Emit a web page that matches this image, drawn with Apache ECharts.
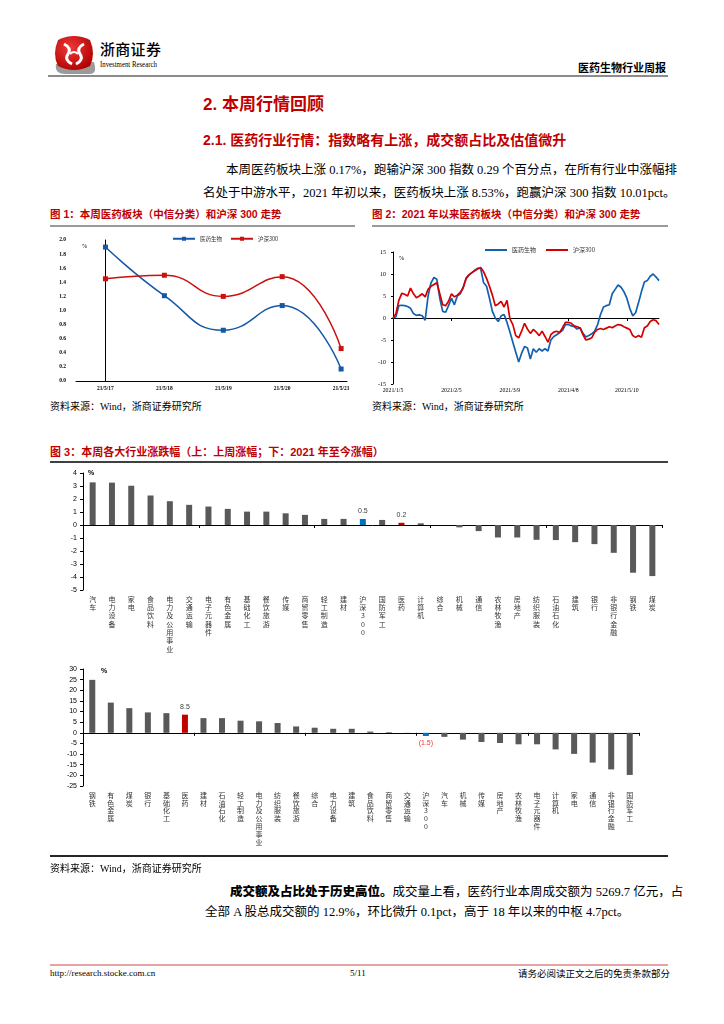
<!DOCTYPE html>
<html><head><meta charset="utf-8">
<script src="https://cdn.jsdelivr.net/npm/echarts@6/dist/echarts.min.js"></script>
<style>
body{margin:0;background:#fff;width:724px;height:1024px;position:relative;overflow:hidden;font-family:"Liberation Serif","Noto Sans CJK SC",serif;color:#000;}
.a{position:absolute;white-space:nowrap;}
.hl{position:absolute;}
.red{color:#C00000;font-family:"Liberation Sans","Noto Sans CJK SC",sans-serif;font-weight:bold;}
.body{font-size:12.5px;line-height:16px;}
.just{text-align:justify;text-align-last:justify;}
.src{font-size:10px;line-height:12px;}
.ch{position:absolute;}
</style></head><body>
<!-- header -->
<svg class="a" style="left:50px;top:34px" width="48" height="42" viewBox="0 0 48 42">
  <defs><radialGradient id="g" cx="40%" cy="35%" r="70%"><stop offset="0" stop-color="#f03a3a"/><stop offset="1" stop-color="#b00000"/></radialGradient></defs>
  <path d="M6 30 Q4 40 16 40 L40 40 Q46 40 45 33 L44 28 Z" fill="#9a9a9a"/>
  <path d="M8 6 Q24 -2 40 6 Q46 20 40 32 Q24 40 8 32 Q2 20 8 6 Z" fill="url(#g)"/>
  <path d="M14 10 Q22 14 18 20 Q14 26 22 30" stroke="#fff" stroke-width="3" fill="none"/>
  <path d="M34 10 Q26 14 30 20 Q34 26 26 30" stroke="#fff" stroke-width="3" fill="none"/>
  <path d="M20 20 Q24 16 28 20" stroke="#fff" stroke-width="2" fill="none"/>
</svg>
<div class="a" style="left:100px;top:40px;font-family:'Noto Sans CJK SC';font-size:15px;font-weight:500;letter-spacing:0.3px;line-height:18px;">浙商证券</div>
<div class="a" style="left:100px;top:60px;font-family:'Liberation Serif';font-size:8px;line-height:9px;transform:scaleX(0.85);transform-origin:left;">Investment Research</div>
<div class="a" style="left:578px;top:61px;font-family:'Noto Sans CJK SC';font-size:11px;font-weight:bold;line-height:13px;">医药生物行业周报</div>
<div class="hl" style="left:48px;top:75px;width:620px;height:2px;background:#8c8c8c;"></div>

<div class="a red" style="left:203px;top:94px;font-size:17px;line-height:22px;">2. 本周行情回顾</div>
<div class="a red" style="left:203px;top:131px;font-size:14px;line-height:18px;">2.1. 医药行业行情：指数略有上涨，成交额占比及估值微升</div>
<div class="a body just" style="left:226px;top:162px;width:442px;">本周医药板块上涨 0.17%，跑输沪深 300 指数 0.29 个百分点，在所有行业中涨幅排</div>
<div class="a body" style="left:203px;top:185px;">名处于中游水平，2021 年初以来，医药板块上涨 8.53%，跑赢沪深 300 指数 10.01pct。</div>

<div class="a red" style="left:50px;top:208px;font-size:10.5px;line-height:13px;">图 1：本周医药板块（中信分类）和沪深 300 走势</div>
<div class="a red" style="left:372px;top:208px;font-size:10.5px;line-height:13px;">图 2：2021 年以来医药板块（中信分类）和沪深 300 走势</div>
<div class="hl" style="left:50px;top:225px;width:305px;height:1.5px;background:#9a9a9a;"></div>
<div class="hl" style="left:372px;top:225px;width:296px;height:1.5px;background:#9a9a9a;"></div>

<div id="c1" class="ch" style="left:50px;top:228px;width:305px;height:170px;"></div>
<div id="c2" class="ch" style="left:372px;top:228px;width:296px;height:165px;"></div>

<div class="a src" style="left:50px;top:401px;">资料来源：Wind，浙商证券研究所</div>
<div class="a src" style="left:372px;top:401px;">资料来源：Wind，浙商证券研究所</div>

<div class="a red" style="left:50px;top:445px;font-size:11px;line-height:14px;">图 3：本周各大行业涨跌幅（上：上周涨幅；下：2021 年至今涨幅）</div>
<div class="hl" style="left:50px;top:461px;width:618px;height:2px;background:#404040;"></div>

<div id="c3" class="ch" style="left:50px;top:465px;width:618px;height:200px;"></div>
<div id="c4" class="ch" style="left:50px;top:662px;width:618px;height:190px;"></div>

<div class="hl" style="left:50px;top:855px;width:618px;height:1.5px;background:#262626;"></div>
<div class="a src" style="left:50px;top:863px;">资料来源：Wind，浙商证券研究所</div>
<div class="a body just" style="left:230px;top:883px;width:438px;"><b style="font-family:'Noto Sans CJK SC';font-weight:900;">成交额及占比处于历史高位。</b>成交量上看，医药行业本周成交额为 5269.7 亿元，占</div>
<div class="a body" style="left:205px;top:904px;">全部 A 股总成交额的 12.9%，环比微升 0.1pct，高于 18 年以来的中枢 4.7pct。</div>

<div class="hl" style="left:50px;top:964px;width:618px;height:1.5px;background:#e6a3a3;"></div>
<div class="a" style="left:50px;top:968px;font-size:9px;line-height:11px;">http://research.stocke.com.cn</div>
<div class="a" style="left:350px;top:968px;font-size:9px;line-height:11px;">5/11</div>
<div class="a" style="left:518px;top:968px;font-size:9.5px;line-height:11px;font-family:'Noto Sans CJK SC';width:150px;text-align:right;">请务必阅读正文之后的免责条款部分</div>

<script>
// ---------- Figure 1 data ----------
const fig1Dates = ['21/5/17','21/5/18','21/5/19','21/5/20','21/5/21'];
const fig1Pharma = [1.90, 1.21, 0.72, 1.07, 0.17];
const fig1HS300 = [1.45, 1.50, 1.20, 1.48, 0.46];
const fig1Names = ['医药生物','沪深300'];

// ---------- Figure 2 data ----------
const fig2TickLabels = ['2021/1/5','2021/2/5','2021/3/9','2021/4/8','2021/5/10'];
const fig2Pharma = [0,0.3,2.8,2.9,2.8,2.6,2.2,1.0,0.6,0.7,
  0.5,-0.5,5.0,8.0,9.2,8.8,4.5,1.5,1.3,2.8,
  4.5,3.0,5.0,5.5,7.0,9.0,9.8,10.3,10.8,11.3,
  11.2,8.0,7.2,4.5,1.5,0.0,-0.8,0.5,0.8,-1.0,
  -3.2,-5.5,-7.8,-10.0,-8.0,-6.5,-6.8,-9.3,-7.0,-7.8,
  -7.0,-7.5,-7.0,-7.5,-5.0,-4.2,-3.8,-3.3,-2.8,-1.5,
  -1.5,-1.8,-2.0,-2.5,-2.2,-3.5,-4.3,-4.0,-3.6,-3.0,
  -1.5,0.8,2.5,2.8,3.0,5.5,6.5,7.5,7.0,6.0,
  4.5,2.2,0.5,1.2,3.5,6.0,8.2,8.5,9.5,10.0,
  9.3,8.5];
const fig2HS300 = [0,1.0,4.0,5.6,5.4,5.0,6.8,5.5,4.6,5.0,
  5.5,4.8,6.5,7.2,7.6,8.0,5.5,3.0,2.8,3.8,
  5.5,4.8,5.2,5.8,6.8,9.0,9.8,10.3,10.8,11.2,
  11.5,10.5,9.0,7.2,5.2,2.8,3.2,3.8,2.5,4.0,
  -0.2,-1.5,-4.0,-4.5,-3.0,-1.2,-2.5,-3.5,-2.6,-3.2,
  -4.0,-3.0,-4.2,-5.5,-3.8,-3.2,-3.0,-3.3,-2.2,-1.0,
  -1.0,-1.2,-1.8,-2.0,-2.3,-3.8,-5.0,-4.8,-4.5,-3.2,
  -2.6,-2.4,-2.6,-2.3,-2.0,-2.2,-1.8,-1.5,-1.6,-2.0,
  -2.3,-2.6,-4.0,-4.4,-4.0,-4.4,-2.2,-1.8,-0.8,-0.4,
  -0.6,-1.5];

// ---------- Figure 3 data ----------
const weekCats = ['汽车','电力设备','家电','食品饮料','电力及公用事业','交通运输','电子元器件','有色金属','基础化工','餐饮旅游','传媒','商贸零售','轻工制造','建材','沪深300','国防军工','医药','计算机','综合','机械','通信','农林牧渔','房地产','纺织服装','石油石化','建筑','银行','非银行金融','钢铁','煤炭'];
const weekVals = [3.28,3.26,3.02,2.27,1.83,1.55,1.42,1.24,1.03,1.03,0.90,0.78,0.47,0.47,0.46,0.39,0.17,0.13,0.0,-0.18,-0.47,-0.96,-0.96,-1.14,-1.16,-1.32,-1.47,-2.14,-3.67,-3.93];
const ytdCats = ['钢铁','有色金属','煤炭','银行','基础化工','医药','建材','石油石化','轻工制造','电力及公用事业','纺织服装','餐饮旅游','综合','电力设备','建筑','食品饮料','商贸零售','交通运输','沪深300','汽车','机械','传媒','房地产','农林牧渔','电子元器件','计算机','家电','通信','非银行金融','国防军工'];
const ytdVals = [24.9,14.2,11.6,9.6,9.25,8.53,6.9,6.9,5.7,5.4,4.6,3.0,2.4,1.9,1.9,0.6,0.3,0.05,-1.48,-1.9,-3.2,-4.3,-4.8,-5.4,-5.4,-7.8,-9.9,-14.0,-17.2,-19.8];

const BLUE1 = '#1458A6', RED1 = '#CC1010';
const BAR = '#595959';
const serif = 'Liberation Serif', sans = 'Liberation Sans', cjk = 'Noto Sans CJK SC';

// ---------- Chart 1 ----------
const c1 = echarts.init(document.getElementById('c1'));
c1.setOption({
  animation:false,
  legend:{left:117, top:3, itemWidth:22, itemHeight:5, itemGap:8, textStyle:{fontSize:5.5, fontFamily:cjk, color:'#333'}, data:fig1Names},
  grid:{left:26, right:8, top:12, bottom:17},
  graphic:[{type:'text', left:32, top:15, style:{text:'%', fontSize:6, fontFamily:serif, fill:'#000'}}],
  xAxis:{type:'value', min:-0.5, max:4.1,
    axisLine:{lineStyle:{color:'#000', width:1}}, splitLine:{show:false},
    axisTick:{show:false},
    axisLabel:{customValues:[0,1,2,3,4], formatter:v=>fig1Dates[Math.round(v)]||'', fontSize:5.5, fontFamily:serif, color:'#000', fontWeight:'bold', margin:5}},
  yAxis:{type:'value', min:0, max:2, interval:0.2, splitLine:{show:false},
    axisLine:{show:true, lineStyle:{color:'#000', width:1}}, axisTick:{show:false},
    axisLabel:{formatter:v=>v.toFixed(1), fontSize:5.5, fontFamily:serif, color:'#000', fontWeight:'bold', margin:10}},
  series:[
    {name:fig1Names[0], type:'line', smooth:true, symbol:'rect', symbolSize:5, lineStyle:{color:BLUE1,width:1.5}, itemStyle:{color:BLUE1},
      data:fig1Pharma.map((v,i)=>[i,v])},
    {name:fig1Names[1], type:'line', smooth:true, symbol:'rect', symbolSize:5, lineStyle:{color:RED1,width:1.5}, itemStyle:{color:RED1},
      data:fig1HS300.map((v,i)=>[i,v])}
  ]
});

// ---------- Chart 2 ----------
const c2 = echarts.init(document.getElementById('c2'));
const fig2Idx = fig2Pharma.map((_,i)=>String(i));
const showTick = i => i % 20 === 0;
c2.setOption({
  animation:false,
  legend:{left:108, top:14, icon:'rect', itemWidth:22, itemHeight:2, itemGap:10, textStyle:{fontSize:6, fontFamily:cjk, color:'#333'}, data:fig1Names},
  grid:{left:21, right:9, top:24, bottom:7},
  graphic:[{type:'text', left:27, top:27, style:{text:'%', fontSize:6, fontFamily:serif, fill:'#000'}}],
  xAxis:{type:'category', data:fig2Idx, boundaryGap:false,
    axisLine:{onZero:true, lineStyle:{color:'#000', width:1}},
    axisTick:{show:true, interval:showTick, length:3, lineStyle:{color:'#000'}},
    axisLabel:{interval:showTick, formatter:(v,i)=>fig2TickLabels[i/20]||'', fontSize:5.8, fontFamily:serif, color:'#000', margin:3}},
  yAxis:{type:'value', min:-15, max:15, interval:5, splitLine:{show:false},
    axisLine:{show:true, lineStyle:{color:'#000', width:1}}, axisTick:{show:true, length:2, lineStyle:{color:'#000'}},
    axisLabel:{fontSize:6, fontFamily:serif, color:'#000', margin:7}},
  series:[
    {name:fig1Names[0], type:'line', symbol:'none', data:fig2Pharma, lineStyle:{color:'#1360AE', width:1.7}, itemStyle:{color:'#1360AE'}},
    {name:fig1Names[1], type:'line', symbol:'none', data:fig2HS300, lineStyle:{color:'#D40000', width:1.7}, itemStyle:{color:'#D40000'}}
  ]
});

// ---------- Bar charts ----------
function vert(s){ return s.split('').join('\n'); }
function barOption(cats, vals, ymin, ymax, step, labelFn, lineH, gridBottom, gridRight, pctLeft){
  return {
    animation:false,
    grid:{left:33, right:gridRight, top: ymax===4 ? 8 : 7, bottom:gridBottom},
    graphic:[{type:'text', left:pctLeft, top: ymax===4 ? 5 : 6, style:{text:'%', fontSize:7, fontWeight:'bold', fontFamily:sans, fill:'#000'}}],
    xAxis:[
      {type:'category', data:cats, position:'bottom',
        axisLine:{onZero:true, lineStyle:{color:'#000', width:1}},
        axisTick:{show:true, length:3, lineStyle:{color:'#000'}},
        axisLabel:{show:false}},
      {type:'category', data:cats, position:'bottom',
        axisLine:{show:false, onZero:false}, axisTick:{show:false},
        axisLabel:{interval:0, formatter:vert, fontSize:7, lineHeight:lineH, fontFamily:cjk, color:'#333', margin:5, verticalAlign:'top'}}
    ],
    yAxis:{type:'value', min:ymin, max:ymax, interval:step, splitLine:{show:false},
      axisLine:{show:true, lineStyle:{color:'#000', width:1}},
      axisTick:{show:true, length:3, lineStyle:{color:'#000'}},
      axisLabel:{fontSize:7, fontFamily:sans, color:'#000', margin:6}},
    series:[{type:'bar', xAxisIndex:0, barWidth:6,
      data: vals.map((v,i)=>labelFn(cats[i], v))}]
  };
}
const c3 = echarts.init(document.getElementById('c3'));
c3.setOption(barOption(weekCats, weekVals, -5, 4, 1, (c,v)=>{
  const it = {value:v, itemStyle:{color:BAR}};
  if(c==='沪深300'){ it.itemStyle.color='#0070C0'; it.label={show:true, position:'top', distance:4, formatter:p=>p.value.toFixed(1), fontSize:7, fontFamily:sans, color:'#404040'}; }
  if(c==='医药'){ it.itemStyle.color='#C00000'; it.label={show:true, position:'top', distance:4, formatter:p=>p.value.toFixed(1), fontSize:7, fontFamily:sans, color:'#404040'}; }
  return it;
}, 8.3, 75, 6, 38));
const c4 = echarts.init(document.getElementById('c4'));
c4.setOption(barOption(ytdCats, ytdVals, -25, 30, 5, (c,v)=>{
  const it = {value:v, itemStyle:{color:BAR}};
  if(c==='沪深300'){ it.itemStyle.color='#0070C0'; it.label={show:true, position:'bottom', distance:4, formatter:p=>'('+Math.abs(p.value).toFixed(1)+')', fontSize:7, fontFamily:sans, color:'#FF3030'}; }
  if(c==='医药'){ it.itemStyle.color='#C00000'; it.label={show:true, position:'top', distance:4, formatter:p=>p.value.toFixed(1), fontSize:7, fontFamily:sans, color:'#404040'}; }
  return it;
}, 7.9, 66, 29, 51));
</script>
</body></html>
